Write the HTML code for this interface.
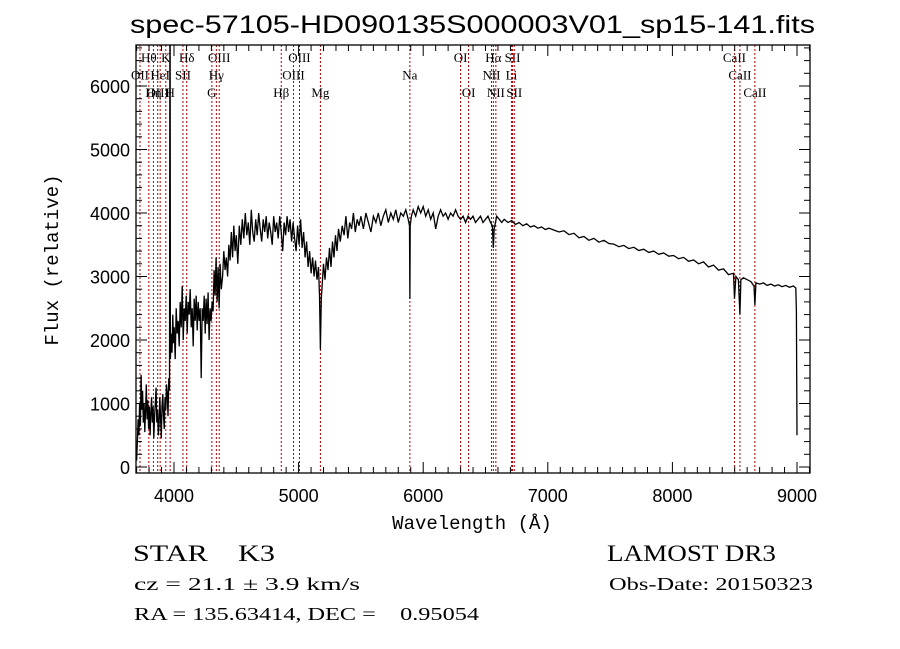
<!DOCTYPE html>
<html><head><meta charset="utf-8"><style>
html,body{margin:0;padding:0;background:#fff;}
svg{display:block;}
</style></head><body>
<svg id="chart" width="900" height="649" xmlns="http://www.w3.org/2000/svg">
<rect x="0" y="0" width="900" height="649" fill="#fff"/>
<text x="130" y="33" textLength="685" lengthAdjust="spacingAndGlyphs" font-family="Liberation Sans, sans-serif" font-size="25" fill="#000">spec-57105-HD090135S000003V01_sp15-141.fits</text>
<g id="lines"></g>
<g id="spec"></g>
<g id="axes"></g>
<text x="472" y="529" text-anchor="middle" font-family="Liberation Mono, monospace" font-size="19" fill="#000">Wavelength (Å)</text>
<text transform="translate(58,260) rotate(-90)" text-anchor="middle" font-family="Liberation Mono, monospace" font-size="19" fill="#000">Flux (relative)</text>
<text x="133" y="561" textLength="142" lengthAdjust="spacingAndGlyphs" xml:space="preserve" font-family="Liberation Serif, serif" font-size="23" fill="#000">STAR    K3</text>
<text x="607" y="561" textLength="169" lengthAdjust="spacingAndGlyphs" font-family="Liberation Serif, serif" font-size="23" fill="#000">LAMOST DR3</text>
<text x="134" y="590" textLength="226" lengthAdjust="spacingAndGlyphs" font-family="Liberation Serif, serif" font-size="18" fill="#000">cz = 21.1 ± 3.9 km/s</text>
<text x="609" y="590" textLength="204" lengthAdjust="spacingAndGlyphs" font-family="Liberation Serif, serif" font-size="18" fill="#000">Obs-Date: 20150323</text>
<text x="134" y="620" textLength="345" lengthAdjust="spacingAndGlyphs" font-family="Liberation Serif, serif" font-size="18" fill="#000" xml:space="preserve">RA = 135.63414, DEC =    0.95054</text>
</svg>
<script>
const waves = [
3700,3706,3712,3718,3724,3730,3736,3742,3748,3754,
3760,3766,3772,3778,3784,3790,3796,3802,3808,3814,
3820,3826,3832,3838,3844,3850,3856,3862,3868,3874,
3880,3886,3892,3898,3904,3910,3916,3922,3928,3934,
3940,3946,3952,3958,3964,3967,3969,3971,3978,3984,
3990,3996,4002,4010,4018,4026,4034,4042,4050,4058,
4066,4074,4082,4090,4098,4106,4114,4122,4130,4138,
4146,4154,4162,4170,4178,4186,4194,4202,4210,4218,
4226,4234,4242,4250,4258,4266,4274,4282,4290,4298,
4306,4314,4322,4330,4338,4346,4354,4362,4370,4380,
4390,4400,4410,4420,4430,4440,4450,4460,4470,4480,
4490,4500,4512,4524,4536,4548,4560,4572,4584,4596,
4608,4620,4632,4644,4656,4668,4680,4692,4704,4716,
4728,4740,4752,4764,4776,4788,4800,4812,4824,4836,
4848,4860,4872,4884,4896,4908,4920,4932,4944,4956,
4968,4980,4992,5004,5016,5028,5040,5052,5064,5076,
5088,5100,5112,5124,5136,5148,5160,5168,5175,5182,
5190,5200,5212,5224,5236,5248,5260,5272,5284,5296,
5308,5320,5335,5350,5365,5380,5395,5410,5425,5440,
5455,5470,5485,5500,5520,5540,5560,5580,5600,5620,
5640,5660,5680,5700,5720,5740,5760,5780,5800,5820,
5840,5860,5880,5890,5893,5896,5905,5920,5940,5960,
5980,6000,6020,6040,6060,6080,6100,6120,6140,6160,
6180,6200,6220,6240,6260,6280,6300,6320,6340,6360,
6380,6400,6420,6440,6460,6480,6500,6520,6540,6555,
6563,6570,6590,6610,6630,6650,6680,6710,6740,6770,
6800,6830,6860,6890,6920,6950,6980,7010,7050,7090,
7130,7170,7210,7250,7290,7330,7370,7410,7450,7490,
7530,7570,7610,7650,7690,7730,7770,7810,7850,7890,
7930,7970,8010,8050,8090,8130,8170,8210,8250,8290,
8330,8370,8410,8450,8490,8498,8510,8530,8542,8550,
8570,8600,8630,8655,8662,8670,8700,8730,8760,8790,
8820,8850,8880,8910,8940,8970,8990,8995,9000];
const fluxes = [
100,400,750,500,1000,650,1450,900,1200,700,
1000,550,900,1300,750,1050,600,950,500,850,
1100,700,950,450,800,1000,1250,700,900,500,
650,1100,800,450,950,1150,800,600,1100,900,
1300,1150,800,1400,1200,7000,7000,1700,2100,1800,
2400,1950,2200,1700,2500,2100,2300,1900,2600,2200,
2850,2000,2500,2300,2700,2100,2600,2400,2800,2200,
2500,1900,2650,2300,2700,2150,2600,2300,2500,1400,
2500,2300,2700,2100,2650,2250,2750,2000,2500,2300,
2600,2450,3100,2700,3300,2600,3150,2500,3200,2800,
3000,3400,3100,3300,3000,3500,3250,3700,3300,3800,
3400,3650,3200,3800,3500,3900,3600,4000,3650,3850,
3500,4050,3700,3550,3900,3650,4000,3750,3550,3900,
3700,3950,3600,3850,3700,3500,3950,3700,3850,3600,
3950,3700,3400,3850,3650,3950,3700,3900,3550,3850,
3600,3400,3800,3500,3900,3450,3700,3300,3550,3150,
3400,3050,3300,3000,3250,2950,3150,2700,1850,2650,
2900,3200,2950,3300,3100,3450,3150,3550,3300,3650,
3400,3750,3550,3800,3650,3950,3600,3850,3750,4000,
3700,3900,3800,3950,3750,4000,3850,3700,3950,3850,
4000,3800,3950,4050,3850,4000,3900,4050,3850,4000,
3950,4050,3900,3800,2650,3800,3950,4050,3950,4100,
4000,4100,3950,4050,3900,4000,3750,3950,4050,3950,
4000,3900,4000,3950,4050,3950,3900,3950,3850,3950,
3900,3950,3850,3900,3950,3850,3900,3950,3850,3800,
3450,3750,3950,3900,3850,3900,3850,3880,3820,3850,
3800,3830,3780,3800,3760,3780,3740,3760,3730,3700,
3720,3660,3680,3610,3630,3570,3600,3540,3570,3520,
3510,3470,3490,3440,3460,3410,3430,3380,3400,3350,
3370,3320,3330,3280,3300,3240,3260,3200,3230,3150,
3180,3100,3120,3030,3050,2650,3000,2950,2400,2950,
2980,2950,2920,2850,2550,2900,2880,2900,2860,2880,
2850,2870,2840,2860,2830,2850,2820,2450,500];
const xTicks = [4000,5000,6000,7000,8000,9000];
const yTicks = [0,1000,2000,3000,4000,5000,6000];
const lineWaves = [3798,3934,4102,4363,5007,6300,6563,6717,8498,3727,3889,4072,4340,4959,5893,6548,6708,8542,3835,3869,3969,4304,4861,5175,6364,6583,6731,8662];
const lineNames = ["Hθ","K","Hδ","OIII","OIII","OI","Hα","SII","CaII","OII","HeI","SII","Hγ","OIII","Na","NII","Li","CaII","Hη","OIII","H","G","Hβ","Mg","OI","NII","SII","CaII"];
const lineRows = [0,0,0,0,0,0,0,0,0,1,1,1,1,1,1,1,1,1,2,2,2,2,2,2,2,2,2,2];

const NS='http://www.w3.org/2000/svg';
const L=136,R=810,T=45,B=473;
const X=w=>174+(w-4000)*0.1246;
const Y=f=>467-f*0.0635;
function mk(tag,attrs,parent){const e=document.createElementNS(NS,tag);for(const k in attrs)e.setAttribute(k,attrs[k]);parent.appendChild(e);return e;}

const lg=document.getElementById('lines');
lineWaves.forEach((w,i)=>{
  const ln=mk('line',{x1:X(w),x2:X(w),y1:T,y2:B,stroke:'#b00000','stroke-width':1,'stroke-dasharray':'2,2'},lg);
  
  
  const t=mk('text',{x:X(w),y:62+lineRows[i]*17.5,'text-anchor':'middle','font-family':'Liberation Serif, serif','font-size':13,fill:'#000'},lg);
  t.textContent=lineNames[i];
  
  
});

const sg=document.getElementById('spec');
const cp=mk('clipPath',{id:'pc'},sg);
mk('rect',{x:L,y:T,width:R-L,height:B-T},cp);
let d='';
waves.forEach((w,i)=>{d+=(i?'L':'M')+X(w).toFixed(1)+','+Y(fluxes[i]).toFixed(1);});
const p=mk('path',{d:d,fill:'none',stroke:'#000','stroke-width':1.3,'clip-path':'url(#pc)'},sg);



const ag=document.getElementById('axes');
mk('rect',{x:L,y:T,width:R-L,height:B-T,fill:'none',stroke:'#000','stroke-width':1.3},ag);
for(let w=3700;w<=9100;w+=100){
  const big=w%1000===0;const h=big?11:6;
  mk('line',{x1:X(w),x2:X(w),y1:B,y2:B-h,stroke:'#000'},ag);
  mk('line',{x1:X(w),x2:X(w),y1:T,y2:T+h,stroke:'#000'},ag);
}
for(let f=0;f<=6600;f+=200){
  const big=f%1000===0;const h=big?11:6;
  mk('line',{x1:L,x2:L+h,y1:Y(f),y2:Y(f),stroke:'#000'},ag);
  mk('line',{x1:R,x2:R-h,y1:Y(f),y2:Y(f),stroke:'#000'},ag);
}
xTicks.forEach(w=>{
  const t=mk('text',{x:X(w),y:502,'text-anchor':'middle','font-family':'Liberation Sans, sans-serif','font-size':18,fill:'#000'},ag);
  t.textContent=w;
  
  
});
yTicks.forEach(f=>{
  const t=mk('text',{x:130,y:Y(f)+7,'text-anchor':'end','font-family':'Liberation Sans, sans-serif','font-size':18,fill:'#000'},ag);
  t.textContent=f;
  
  
});
</script>
</body></html>
